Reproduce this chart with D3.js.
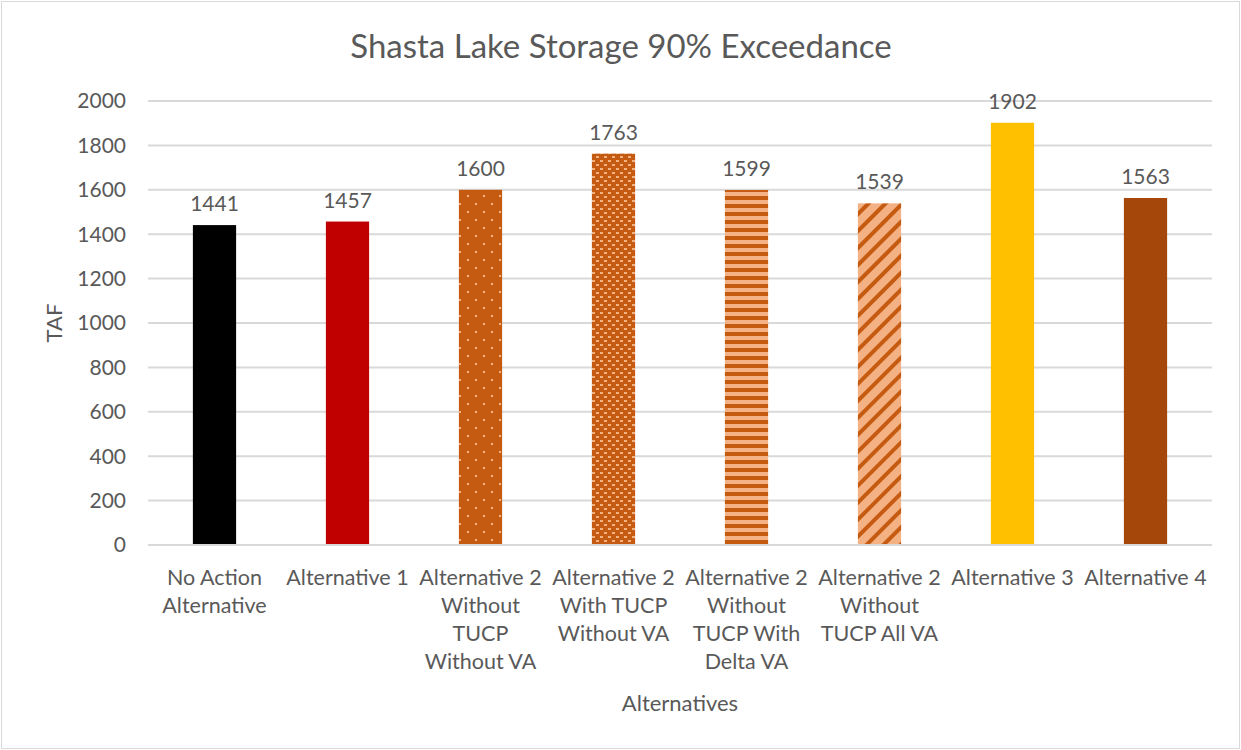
<!DOCTYPE html>
<html lang="en">
<head>
<meta charset="UTF-8">
<title>Shasta Lake Storage</title>
<script src="https://d3js.org/d3.v7.min.js"></script>
<style>
    body { margin: 0; background: #fff; }
    text { font-family: Lato, "Open Sans", sans-serif; fill: #595959; }
</style>
</head>
<body>
<script>
    var categories = ["No Action Alternative", "Alternative 1", "Alternative 2 Without TUCP Without VA",
        "Alternative 2 With TUCP Without VA", "Alternative 2 Without TUCP With Delta VA",
        "Alternative 2 Without TUCP All VA", "Alternative 3", "Alternative 4"];
    // tick labels as they wrap in the chart
    var tickLabels = [["No Action", "Alternative"], ["Alternative 1"], ["Alternative 2", "Without", "TUCP", "Without VA"],
        ["Alternative 2", "With TUCP", "Without VA"], ["Alternative 2", "Without", "TUCP With", "Delta VA"],
        ["Alternative 2", "Without", "TUCP All VA"], ["Alternative 3"], ["Alternative 4"]];
    var values = [1441, 1457, 1600, 1763, 1599, 1539, 1902, 1563];
    var fills = ["#000000", "#C00000", "url(#dots)", "url(#weave)", "url(#hstripe)", "url(#diag)", "#FFC000", "#A5460B"];
    var yTicks = [0, 200, 400, 600, 800, 1000, 1200, 1400, 1600, 1800, 2000];

    var W = 1241, H = 750;
    var svg = d3.select("body").append("svg").attr("width", W).attr("height", H);

    // patterns
    var defs = svg.append("defs");
    var dark = "#C55A11", light = "#F4B183";

    var p = defs.append("pattern").attr("id", "dots").attr("patternUnits", "userSpaceOnUse")
        .attr("width", 16).attr("height", 16);
    p.append("rect").attr("width", 16).attr("height", 16).attr("fill", dark);
    p.append("rect").attr("x", 3).attr("y", 3).attr("width", 2).attr("height", 2).attr("fill", light);
    p.append("rect").attr("x", 11).attr("y", 11).attr("width", 2).attr("height", 2).attr("fill", light);

    p = defs.append("pattern").attr("id", "weave").attr("patternUnits", "userSpaceOnUse")
        .attr("width", 8).attr("height", 8);
    p.append("rect").attr("width", 8).attr("height", 8).attr("fill", dark);
    p.append("rect").attr("x", 0).attr("y", 0).attr("width", 3).attr("height", 2).attr("fill", light);
    p.append("rect").attr("x", 4).attr("y", 4).attr("width", 3).attr("height", 2).attr("fill", light);

    p = defs.append("pattern").attr("id", "hstripe").attr("patternUnits", "userSpaceOnUse")
        .attr("width", 8).attr("height", 8);
    p.append("rect").attr("width", 8).attr("height", 8).attr("fill", light);
    p.append("rect").attr("y", 4).attr("width", 8).attr("height", 4).attr("fill", dark);

    p = defs.append("pattern").attr("id", "diag").attr("patternUnits", "userSpaceOnUse")
        .attr("width", 12).attr("height", 12).attr("patternTransform", "rotate(45)");
    p.append("rect").attr("width", 12).attr("height", 12).attr("fill", light);
    p.append("rect").attr("width", 4).attr("height", 12).attr("fill", dark);

    // frame
    svg.append("rect").attr("x", 1.5).attr("y", 1.5).attr("width", W - 3).attr("height", H - 3)
        .attr("fill", "#fff").attr("stroke", "#d9d9d9");

    var plotL = 148, plotR = 1212, plotT = 101, plotB = 545;
    var x = d3.scaleBand().domain(categories).range([plotL, plotR]).paddingInner(0.675).paddingOuter(0.3375);
    var y = d3.scaleLinear().domain([0, 2000]).range([plotB, plotT]);

    // gridlines
    svg.append("g").selectAll("line").data(yTicks).enter().append("line")
        .attr("x1", plotL).attr("x2", plotR)
        .attr("y1", function(d) { return y(d); }).attr("y2", function(d) { return y(d); })
        .attr("stroke", "#d9d9d9").attr("stroke-width", 2);

    svg.append("g").selectAll("text").data(yTicks).enter().append("text")
        .attr("x", 126).attr("y", function(d) { return y(d); }).attr("dy", "0.35em")
        .attr("text-anchor", "end").style("font-size", "21px")
        .text(function(d) { return d; });

    // bars
    svg.append("g").selectAll("rect").data(values).enter().append("rect")
        .attr("x", function(d, i) { return x(categories[i]); })
        .attr("y", function(d) { return y(d); })
        .attr("width", x.bandwidth())
        .attr("height", function(d) { return plotB - y(d); })
        .attr("fill", function(d, i) { return fills[i]; });

    svg.append("line").attr("x1", plotL).attr("x2", plotR).attr("y1", plotB).attr("y2", plotB)
        .attr("stroke", "#d9d9d9").attr("stroke-width", 2);

    // value labels
    svg.append("g").selectAll("text").data(values).enter().append("text")
        .attr("x", function(d, i) { return x(categories[i]) + x.bandwidth() / 2; })
        .attr("y", function(d) { return y(d) - 14; })
        .attr("text-anchor", "middle").style("font-size", "21px")
        .text(function(d) { return d; });

    // category labels
    svg.append("g").selectAll("text").data(categories).enter().append("text")
        .attr("text-anchor", "middle").style("font-size", "21.5px")
        .attr("transform", function(d) { return "translate(" + (x(d) + x.bandwidth() / 2) + ",585)"; })
        .each(function(d, i) {
            var t = d3.select(this);
            tickLabels[i].forEach(function(l, j) {
                t.append("tspan").attr("x", 0).attr("dy", j ? 28 : 0).text(l);
            });
        });

    // titles
    svg.append("text").attr("x", 621).attr("y", 58).attr("text-anchor", "middle")
        .style("font-size", "33px").text("Shasta Lake Storage 90% Exceedance");
    svg.append("text").attr("transform", "translate(62,323) rotate(-90)").attr("text-anchor", "middle")
        .style("font-size", "22px").text("TAF");
    svg.append("text").attr("x", 680).attr("y", 711).attr("text-anchor", "middle")
        .style("font-size", "22px").text("Alternatives");
</script>
</body>
</html>
